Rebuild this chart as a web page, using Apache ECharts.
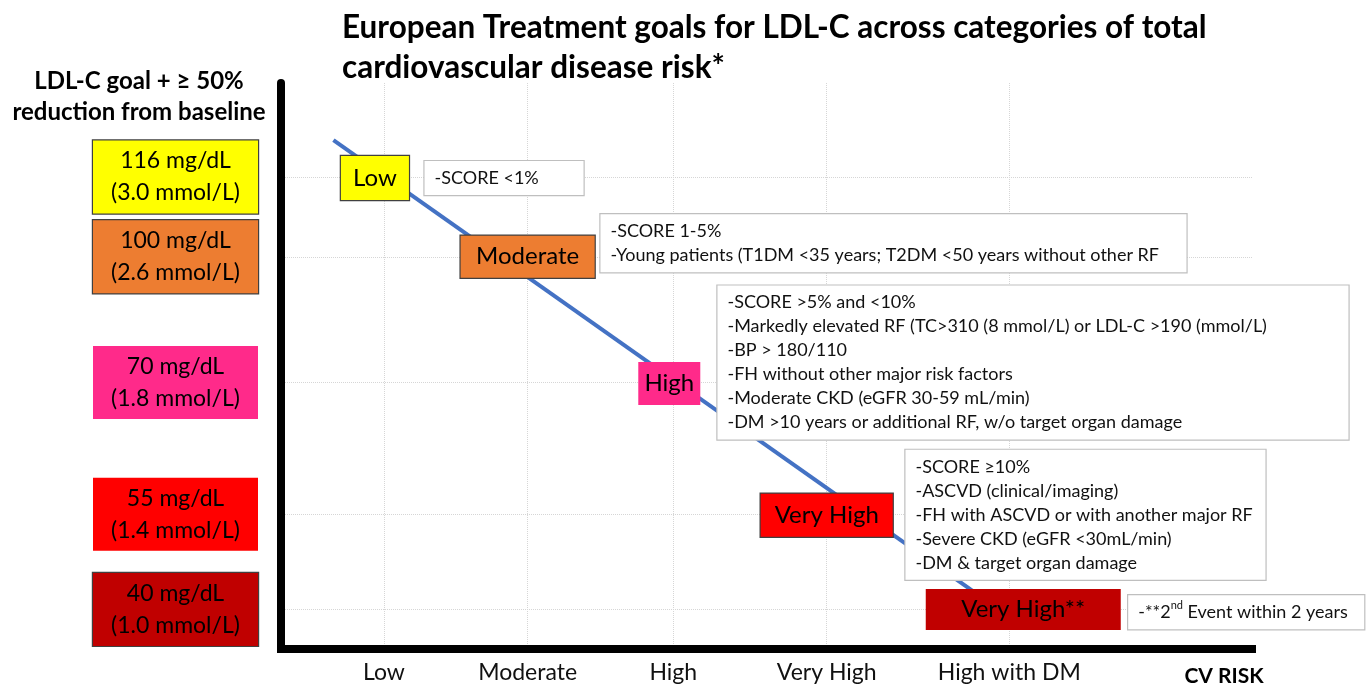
<!DOCTYPE html>
<html><head><meta charset="utf-8">
<script src="https://cdn.jsdelivr.net/npm/echarts@6/dist/echarts.min.js"></script>
<style>html,body{margin:0;padding:0;background:#fff}#c{width:1371px;height:688px}</style>
</head><body><div id="c"></div>
<script>
// ---- data ----
const riskCategories = ['Low', 'Moderate', 'High', 'Very High', 'High with DM'];
const riskAxisPos = [10.6, 25.4, 40.4, 56.2, 75.0];          // position of each CV-risk category on the risk axis (0-100)
const goalMgdl = ['116 mg/dL', '100 mg/dL', '70 mg/dL', '55 mg/dL', '40 mg/dL'];
const goalMmol = ['(3.0 mmol/L)', '(2.6 mmol/L)', '(1.8 mmol/L)', '(1.4 mmol/L)', '(1.0 mmol/L)'];
const goalLevels = [83.4, 69.3, 47.1, 23.8, 7.0];             // schematic height of each LDL-C goal (0-100)
const riskLevelNames = ['Low', 'Moderate', 'High', 'Very High', 'Very High**'];
const trendLine = [[5.4, 89.9], [74.0, 6.9]];
const riskNotes = [
  ['-SCORE <1%'],
  ['-SCORE 1-5%', '-Young patients (T1DM <35 years; T2DM <50 years without other RF'],
  ['-SCORE >5% and <10%', '-Markedly elevated RF (TC>310 (8 mmol/L) or LDL-C >190 (mmol/L)', '-BP > 180/110',
   '-FH without other major risk factors', '-Moderate CKD (eGFR 30-59 mL/min)', '-DM >10 years or additional RF, w/o target organ damage'],
  ['-SCORE \u226510%', '-ASCVD (clinical/imaging)', '-FH with ASCVD or with another major RF', '-Severe CKD (eGFR <30mL/min)', '-DM & target organ damage'],
  ['-**2{sup|nd} Event within 2 years']
];

// ---- styling ----
const FONT = 'Lato';
const levelColors = ['#FFFF00', '#ED7D31', '#FF2A8A', '#FF0000', '#C00000'];
const catBorder = ['#404040', '#404040', null, '#404040', null];
const leftBorder = ['#404040', '#404040', null, null, '#404040'];
const catBoxW = [68, 134, 62, 132, 195];
const catBoxH = [44, 42, 43, 43, 41];
const catOffset = [[-9, 1], [0, 0], [-4, 1], [0, 1], [14, 0]];
const noteAnchors = [[14.73, 83.2], [32.85, 71.7], [44.9, 50.6], [64.26, 23.7], [87.2, 6.5]];
const noteW = [139, 566, 611, 340, 216];

const chart = echarts.init(document.getElementById('c'));

const catData = riskLevelNames.map((n, i) => ({
  value: [riskAxisPos[i], goalLevels[i]],
  name: n,
  label: {
    backgroundColor: levelColors[i],
    borderColor: catBorder[i] || levelColors[i],
    borderWidth: catBorder[i] ? 1.2 : 0,
    width: catBoxW[i],
    lineHeight: catBoxH[i],
    offset: catOffset[i]
  }
}));

const leftData = goalMgdl.map((g, i) => ({
  value: [0.5, goalLevels[i]],
  name: g + '\n' + goalMmol[i],
  label: {
    backgroundColor: levelColors[i],
    borderColor: leftBorder[i] || levelColors[i],
    borderWidth: leftBorder[i] ? 1.2 : 0
  }
}));

const noteData = riskNotes.map((lines, i) => ({
  value: noteAnchors[i],
  name: lines.map(l => l.indexOf('{sup|') >= 0 ? l.replace(/^(.*)\{sup\|(.*?)\}(.*)$/, '{t|$1}{sup|$2}{t|$3}') : '{t|' + l + '}').join('\n'),
  label: { width: noteW[i] }
}));

const hiddenItem = { color: 'rgba(0,0,0,0)', opacity: 1 };

const option = {
  animation: false,
  backgroundColor: '#fff',
  title: [{
    text: 'European Treatment goals for LDL-C across categories of total\ncardiovascular disease risk*',
    left: 342, top: 8, padding: 0,
    textStyle: { fontFamily: FONT, fontSize: 31.5, fontWeight: 'bold', color: '#000', lineHeight: 40 }
  }],
  graphic: [{
    type: 'text', x: 139, y: 66,
    style: {
      text: 'LDL-C goal + \u2265 50%\nreduction from baseline',
      align: 'center', verticalAlign: 'top',
      font: 'bold 24px Lato', lineHeight: 31, fill: '#000'
    }
  }],
  grid: [
    { left: 281, right: 119, top: 83, bottom: 39, outerBoundsMode: 'none' },
    { left: 93, width: 165, top: 83, bottom: 39, outerBoundsMode: 'none' }
  ],
  xAxis: [{
    type: 'value', gridIndex: 0, min: 0, max: 100,
    axisLine: { show: true, onZero: false, lineStyle: { color: '#000', width: 8, cap: 'square' } },
    axisTick: { show: false, customValues: riskAxisPos },
    axisLabel: {
      customValues: riskAxisPos, margin: 12,
      fontFamily: FONT, fontSize: 23, color: '#111',
      formatter: v => { const i = riskAxisPos.findIndex(p => Math.abs(p - v) < 1e-6); return i >= 0 ? riskCategories[i] : ''; }
    },
    splitLine: { show: true, lineStyle: { color: '#d6d6d6', type: 'dotted', width: 1 } },
    name: 'CV RISK', nameLocation: 'end', nameGap: -28,
    nameTextStyle: { fontFamily: FONT, fontSize: 21, fontWeight: 'bold', color: '#000', align: 'center', verticalAlign: 'top', padding: [17, 0, 0, 0] }
  }, {
    type: 'value', gridIndex: 1, min: 0, max: 1, show: false
  }],
  yAxis: [{
    type: 'value', gridIndex: 0, min: 0, max: 100,
    axisLine: { show: true, onZero: false, lineStyle: { color: '#000', width: 8 } },
    axisTick: { show: false, customValues: goalLevels },
    axisLabel: { show: false },
    splitLine: { show: true, lineStyle: { color: '#d6d6d6', type: 'dotted', width: 1 } }
  }, {
    type: 'value', gridIndex: 1, min: 0, max: 100, show: false
  }],
  series: [{
    type: 'line', data: trendLine, symbol: 'none', silent: true, z: 2,
    lineStyle: { color: '#4472C4', width: 4 }
  }, {
    type: 'scatter', data: noteData, symbolSize: 1, silent: true, z: 3,
    itemStyle: hiddenItem,
    label: {
      show: true, position: 'right', distance: 0, formatter: p => p.name, opacity: 1,
      backgroundColor: '#fff', borderColor: '#bfbfbf', borderWidth: 1.2,
      padding: [5, 10], align: 'left',
      rich: {
        t: { fontFamily: FONT, fontSize: 18, color: '#111', lineHeight: 24 },
        sup: { fontFamily: FONT, fontSize: 11, color: '#111', lineHeight: 24, verticalAlign: 'top', padding: [0, 0, 6, 0] }
      }
    }
  }, {
    type: 'scatter', data: catData, symbolSize: 1, silent: true, z: 4,
    itemStyle: hiddenItem,
    label: {
      show: true, position: 'inside', formatter: p => p.name, opacity: 1,
      fontFamily: FONT, fontSize: 24, color: '#000', align: 'center', verticalAlign: 'middle'
    }
  }, {
    type: 'scatter', xAxisIndex: 1, yAxisIndex: 1, data: leftData, symbolSize: 1, silent: true, z: 4,
    itemStyle: hiddenItem,
    label: {
      show: true, position: 'inside', formatter: p => p.name, opacity: 1,
      fontFamily: FONT, fontSize: 23, color: '#000', align: 'center', verticalAlign: 'middle',
      width: 165, lineHeight: 32, padding: [4.5, 0]
    }
  }]
};
chart.setOption(option);
</script></body></html>
